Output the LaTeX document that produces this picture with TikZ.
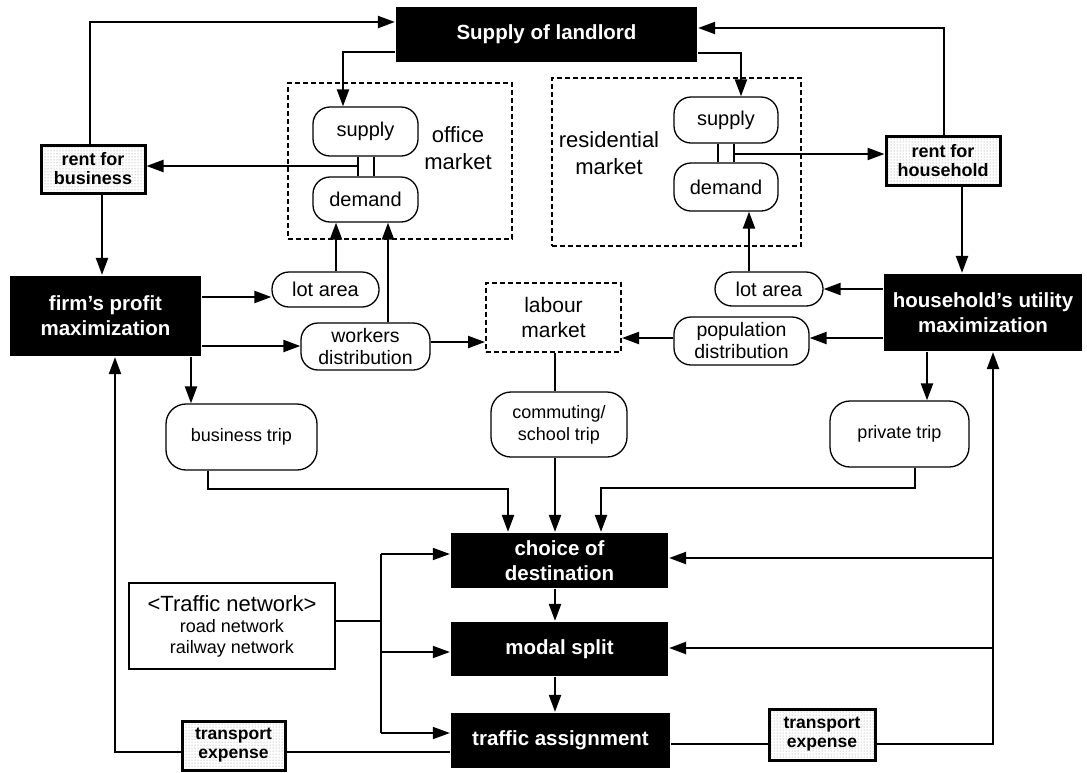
\documentclass[tikz,border=0pt]{standalone}
\usepackage{fontspec}
\setmainfont{Liberation Sans}
\usetikzlibrary{arrows.meta,patterns}
\begin{document}
\begin{tikzpicture}[x=1pt,y=-1pt,line width=2.2pt,
  arr/.style={-{Triangle[length=17pt,width=12pt]}},
  blk/.style={fill=black,text=white,font=\bfseries\fontsize{20.5}{25}\selectfont,align=center,inner sep=0pt},
  rnd/.style={draw,line width=1.3pt,rounded corners=17pt,align=center,inner sep=0pt,font=\fontsize{20}{22}\selectfont},
  trip/.style={rnd,rounded corners=20pt,font=\fontsize{18}{22}\selectfont},
  rent/.style={draw,line width=3pt,pattern=dots,pattern color=black!45,align=center,inner sep=0pt,font=\bfseries\fontsize{18}{19}\selectfont},
  tp/.style={rent,font=\bfseries\fontsize{17.5}{19}\selectfont},
  mkt/.style={draw,dashed,dash pattern=on 5pt off 3pt,line width=2pt,align=center,inner sep=0pt},
  lab/.style={align=center,font=\fontsize{22}{27}\selectfont},
  thinl/.style={line width=1.6pt}
]
\useasboundingbox (0,0) rectangle (1087,772);
% markets
\node[mkt,minimum width=224pt,minimum height=156pt] (oMkt) at (400,161) {};
\node[mkt,minimum width=249pt,minimum height=168pt] (rMkt) at (676.5,162) {};
\node[lab] (oTxt) at (458,148) {office\\market};
\node[lab] (rTxt) at (609,153) {residential\\market};
% top
\node[blk,minimum width=301pt,minimum height=55pt] (sup) at (546.5,34.5) {Supply of landlord};
\node[rnd,minimum width=105pt,minimum height=49pt] (oSup) at (365.5,131.5) {supply};
\node[rnd,minimum width=105pt,minimum height=45pt] (oDem) at (365.5,199.5) {demand};
\node[rnd,minimum width=104pt,minimum height=46pt] (rSup) at (726,120) {supply};
\node[rnd,minimum width=104pt,minimum height=48pt] (rDem) at (726,187) {demand};
\node[rent,minimum width=104pt,minimum height=48pt] (rentB) at (93,169) {rent for\\business};
\node[rent,minimum width=114pt,minimum height=49pt] (rentH) at (943,160.5) {rent for\\household};
% middle
\node[blk,minimum width=191pt,minimum height=80pt] (firm) at (105.5,316) {firm's profit\\maximization};
\node[blk,minimum width=198pt,minimum height=77pt] (hh) at (983,312.5) {household's utility\\maximization};
\node[rnd,minimum width=107pt,minimum height=35pt] (lotL) at (325.5,289.5) {lot area};
\node[rnd,minimum width=108pt,minimum height=34pt] (lotR) at (769,289) {lot area};
\node[rnd,minimum width=129pt,minimum height=47pt,font=\fontsize{19.5}{22}\selectfont] (wrk) at (365.5,346.5) {workers\\distribution};
\node[rnd,minimum width=135pt,minimum height=48pt,font=\fontsize{19.5}{22}\selectfont] (pop) at (741.5,341) {population\\distribution};
\node[mkt,minimum width=135pt,minimum height=69pt,font=\fontsize{21}{25}\selectfont] (lab) at (553.5,317.5) {labour\\market};
\node[trip,minimum width=151pt,minimum height=66pt] (bus) at (241.5,437) {business trip};
\node[trip,minimum width=136pt,minimum height=65pt] (com) at (559,424.5) {commuting/\\school trip};
\node[trip,minimum width=139pt,minimum height=66pt] (priv) at (899.5,434) {private trip};
% bottom
\node[blk,minimum width=217pt,minimum height=55pt] (cho) at (559.5,560.5) {choice of\\destination};
\node[blk,minimum width=217pt,minimum height=54pt] (mod) at (559.5,649) {modal split};
\node[blk,minimum width=219pt,minimum height=55pt] (tra) at (560.5,740.5) {traffic assignment};
\node[draw,line width=1.5pt,minimum width=206pt,minimum height=86pt,align=center,inner sep=0pt,font=\fontsize{18}{21}\selectfont] (net) at (232,626) {{\fontsize{22}{24}\selectfont <Traffic network>}\\road network\\railway network};
\node[tp,minimum width=103pt,minimum height=49pt] (tpL) at (233.5,745.5) {transport\\expense};
\node[tp,minimum width=106pt,minimum height=51pt] (tpR) at (822,734.5) {transport\\expense};
% connectors top
\draw[arr] (rentB.north -| 90,0) -- (90,22) -- (sup.west |- 0,22);
\draw[arr] (sup.west |- 0,52) -- (343,52) -- (oSup.north -| 343,0);
\draw[arr] (sup.east |- 0,53) -- (741,53) -- (rSup.north -| 741,0);
\draw[arr] (rentH.north -| 944,0) -- (944,28) -- (sup.east |- 0,28);
\draw (oSup.south -| 358,0) -- (oDem.north -| 358,0);
\draw (oSup.south -| 374,0) -- (oDem.north -| 374,0);
\draw (rSup.south -| 718,0) -- (rDem.north -| 718,0);
\draw (rSup.south -| 734,0) -- (rDem.north -| 734,0);
\draw[arr] (358,166) -- (rentB.east |- 0,166);
\draw[arr] (734,154) -- (rentH.west |- 0,154);
\draw[arr] (rentB.south -| 102,0) -- (firm.north -| 102,0);
\draw[arr] (rentH.south -| 962,0) -- (hh.north -| 962,0);
% middle
\draw[arr] (firm.east |- 0,297) -- (lotL.west |- 0,297);
\draw[arr] (lotL.north -| 336,0) -- (oDem.south -| 336,0);
\draw[arr] (firm.east |- 0,346) -- (wrk.west |- 0,346);
\draw[arr] (wrk.north -| 388,0) -- (oDem.south -| 388,0);
\draw[arr] (wrk.east |- 0,342) -- (lab.west |- 0,342);
\draw (lab.south -| 555,0) -- (com.north -| 555,0);
\draw[arr] (com.south -| 555,0) -- (cho.north -| 555,0);
\draw[arr] (firm.south -| 191,0) -- (bus.north -| 191,0);
\draw[arr] (bus.south -| 208,0) -- (208,489) -- (508,489) -- (cho.north -| 508,0);
\draw[arr] (hh.west |- 0,289) -- (lotR.east |- 0,289);
\draw[arr] (lotR.north -| 749,0) -- (rDem.south -| 749,0);
\draw[arr] (hh.west |- 0,338) -- (pop.east |- 0,338);
\draw[arr] (pop.west |- 0,338) -- (lab.east |- 0,338);
\draw[arr] (hh.south -| 927,0) -- (priv.north -| 927,0);
\draw[arr] (priv.south -| 915,0) -- (915,488) -- (601,488) -- (cho.north -| 601,0);
% bottom
\draw[arr] (cho.south -| 555,0) -- (mod.north -| 555,0);
\draw[arr] (mod.south -| 555,0) -- (tra.north -| 555,0);
\draw (tra.east |- 0,744) -- (tpR.west |- 0,744);
\draw[arr] (tpR.east |- 0,744) -- (993,744) -- (hh.south -| 993,0);
\draw[arr] (993,558) -- (cho.east |- 0,558);
\draw[arr] (993,648) -- (mod.east |- 0,648);
\draw (tra.west |- 0,752) -- (tpL.east |- 0,752);
\draw[arr] (tpL.west |- 0,752) -- (115,752) -- (firm.south -| 115,0);
\draw[thinl] (net.east |- 0,621) -- (381,621);
\draw[thinl] (381,554) -- (381,733);
\draw[thinl,arr] (381,554) -- (cho.west |- 0,554);
\draw[thinl,arr] (381,652) -- (mod.west |- 0,652);
\draw[thinl,arr] (381,733) -- (tra.west |- 0,733);
\end{tikzpicture}
\end{document}
